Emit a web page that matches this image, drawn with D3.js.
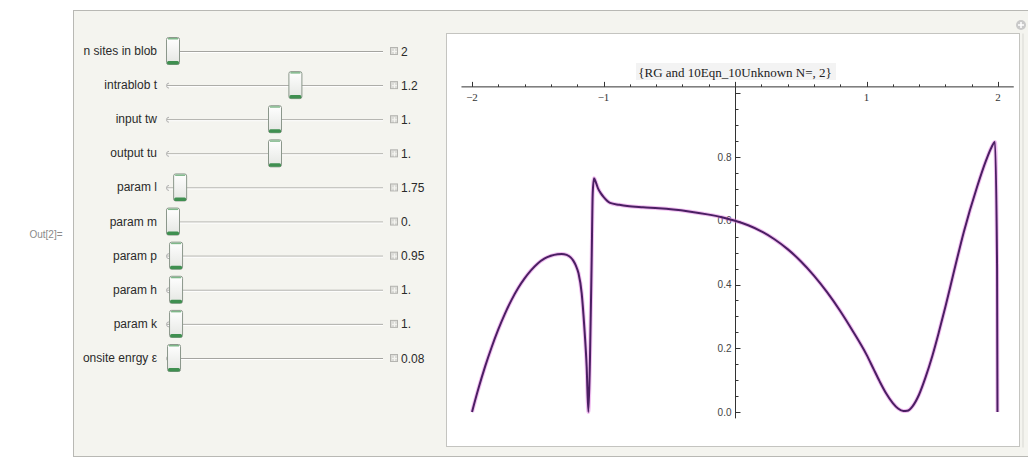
<!DOCTYPE html>
<html>
<head>
<meta charset="utf-8">
<script src="https://cdn.jsdelivr.net/npm/d3@7"></script>
<style>
  body { margin: 0; background: #fff; }
  svg { display: block; }
</style>
</head>
<body>
<svg id="chart" width="1028" height="463"></svg>
<script>
// slider panel
var sliderLabels = ['n sites in blob', 'intrablob t', 'input tw', 'output tu', 'param l',
    'param m', 'param p', 'param h', 'param k', 'onsite enrgy \u03b5'];
var sliderValues = ['2', '1.2', '1.', '1.', '1.75', '0.', '0.95', '1.', '1.', '0.08'];
var sliderPos = [0, 0.6, 0.5, 0.5, 0.035, 0, 0.015, 0.015, 0.015, 0.005];

// plotted curve
var curveX = [-2.0, -1.95, -1.9, -1.85, -1.8, -1.75, -1.7, -1.65, -1.6, -1.55, -1.5, -1.45,
    -1.4, -1.35, -1.318, -1.28, -1.25, -1.23, -1.21, -1.19, -1.166, -1.146, -1.128, -1.115,
    -1.103, -1.09, -1.082, -1.072, -1.056, -1.04, -1.02, -1.0, -0.95, -0.88, -0.82, -0.7,
    -0.58, -0.47, -0.35, -0.21, -0.1, 0.0, 0.1, 0.2, 0.3, 0.4, 0.5, 0.6, 0.7, 0.8, 0.9,
    1.0, 1.05, 1.1, 1.15, 1.2, 1.24, 1.28, 1.31, 1.35, 1.4, 1.45, 1.5, 1.55, 1.6,
    1.66, 1.74, 1.84, 1.91, 1.95, 1.977, 1.993, 1.996];
var curveY = [0.0, 0.075, 0.143, 0.204, 0.259, 0.308, 0.351, 0.388, 0.419, 0.445, 0.466, 0.481,
    0.49, 0.495, 0.496, 0.493, 0.485, 0.475, 0.459, 0.435, 0.373, 0.267, 0.142, 0.0,
    0.163, 0.476, 0.686, 0.733, 0.718, 0.70, 0.686, 0.675, 0.656, 0.65, 0.646, 0.642,
    0.639, 0.635, 0.629, 0.62, 0.611, 0.60, 0.586, 0.567, 0.542, 0.511, 0.473, 0.428, 0.376, 0.317, 0.251,
    0.18, 0.138, 0.096, 0.058, 0.028, 0.011, 0.003, 0.004, 0.018, 0.055, 0.11, 0.175, 0.25, 0.33,
    0.432, 0.565, 0.705, 0.79, 0.83, 0.847, 0.45, 0.0];

var xTicks = [-2, -1, 1, 2];
var xTickLabels = ['\u22122', '\u22121', '1', '2'];
var yTicks = [0, 0.2, 0.4, 0.6, 0.8];
var yTickLabels = ['0.0', '0.2', '0.4', '0.6', '0.8'];
var plotTitle = '{RG and 10Eqn_10Unknown N=, 2}';

var svg = d3.select('#chart');

// gradient for slider thumbs
var defs = svg.append('defs');
var grad = defs.append('linearGradient').attr('id', 'thumbGrad')
    .attr('x1', 0).attr('y1', 0).attr('x2', 0).attr('y2', 1);
grad.append('stop').attr('offset', '0%').attr('stop-color', '#ffffff');
grad.append('stop').attr('offset', '100%').attr('stop-color', '#e4e6e2');

// outer panel
svg.append('rect')
    .attr('x', 73.5).attr('y', 10.5)
    .attr('width', 1000).attr('height', 446)
    .attr('fill', '#f4f4ef')
    .attr('stroke', '#b8b8b4');

svg.append('text')
    .attr('x', 46).attr('y', 238)
    .attr('text-anchor', 'middle')
    .attr('font-family', 'Liberation Sans, Arial, sans-serif')
    .attr('font-size', 10)
    .attr('fill', '#8a8a8a')
    .text('Out[2]=');

// close icon top right
var icon = svg.append('g').attr('transform', 'translate(1021,25)');
icon.append('circle').attr('r', 5).attr('fill', '#c9c9c9');
icon.append('path').attr('d', 'M-3,0H3M0,-3V3').attr('stroke', '#fff').attr('stroke-width', 1.5);

// sliders
var rowScale = d3.scalePoint().domain(d3.range(sliderLabels.length)).range([51, 358]);
var thumbScale = d3.scaleLinear().domain([0, 1]).range([173, 377]);
var labelFont = 'Liberation Sans, Arial, sans-serif';

var rows = svg.selectAll('.slider')
    .data(sliderLabels)
    .enter()
    .append('g')
    .attr('class', 'slider')
    .attr('transform', function(d, i) { return 'translate(0,' + rowScale(i) + ')'; });

rows.append('text')
    .attr('x', 157).attr('y', 4)
    .attr('text-anchor', 'end')
    .attr('font-family', labelFont)
    .attr('font-size', 12)
    .attr('fill', '#2a2a2a')
    .text(function(d) { return d; });

rows.append('line')
    .attr('x1', 167).attr('x2', 383).attr('y1', 0.5).attr('y2', 0.5)
    .attr('stroke', '#a4a4a0');
rows.append('line')
    .attr('x1', 167).attr('x2', 383).attr('y1', 1.5).attr('y2', 1.5)
    .attr('stroke', '#ffffff');
rows.append('path')
    .attr('d', 'M169,-2 A2.5,2.5 0 0 0 169,3')
    .attr('fill', 'none').attr('stroke', '#b0b0b0');

// small plus button
rows.append('rect')
    .attr('x', 390.5).attr('y', -3.5).attr('width', 7).attr('height', 7)
    .attr('fill', '#dcdcd8').attr('stroke', '#b4b4b0');
rows.append('path')
    .attr('d', 'M392,0.5H397M394.5,-2V3')
    .attr('stroke', '#f4f4f0');

rows.append('text')
    .attr('x', 401).attr('y', 4.5)
    .attr('font-family', labelFont)
    .attr('font-size', 12)
    .attr('fill', '#2a2a2a')
    .text(function(d, i) { return sliderValues[i]; });

var thumbs = rows.append('g')
    .attr('transform', function(d, i) { return 'translate(' + thumbScale(sliderPos[i]) + ',0)'; });
thumbs.append('rect')
    .attr('x', -6.5).attr('y', -13.5).attr('width', 13).attr('height', 27).attr('rx', 2)
    .attr('fill', 'url(#thumbGrad)')
    .attr('stroke', '#8b978b');
thumbs.append('rect')
    .attr('x', -6).attr('y', 10).attr('width', 12).attr('height', 3.5).attr('rx', 1.5)
    .attr('fill', '#3f8f50');
thumbs.append('rect')
    .attr('x', -5).attr('y', -13).attr('width', 10).attr('height', 1.5)
    .attr('fill', '#7fb88a');

// plot box
svg.append('rect')
    .attr('x', 1022.5).attr('y', 33.5).attr('width', 1).attr('height', 414)
    .attr('fill', '#d8d8d4');
svg.append('rect')
    .attr('x', 446.5).attr('y', 33.5)
    .attr('width', 573).attr('height', 413)
    .attr('fill', '#ffffff')
    .attr('stroke', '#c4c4c0');

var xScale = d3.scaleLinear().domain([-2, 2]).range([472, 998]);
var yScale = d3.scaleLinear().domain([0, 0.8]).range([412, 157]);
var axisY = yScale(1.02);
var axisColor = '#333';

// title
svg.append('rect')
    .attr('x', 636).attr('y', 63).attr('width', 200).attr('height', 17)
    .attr('fill', '#f3f3f3');
svg.append('text')
    .attr('x', xScale(0)).attr('y', 77)
    .attr('text-anchor', 'middle')
    .attr('font-family', 'Liberation Serif, Times New Roman, serif')
    .attr('font-size', 13)
    .attr('fill', '#222')
    .text(plotTitle);

// x axis
svg.append('line')
    .attr('x1', xScale(-2.08)).attr('x2', xScale(2.12))
    .attr('y1', axisY).attr('y2', axisY)
    .attr('stroke', axisColor);

var xMinor = d3.range(-2, 2.001, 0.2).map(function(v) { return Math.round(v * 10) / 10; });
svg.selectAll('.xtick')
    .data(xMinor)
    .enter()
    .append('line')
    .attr('class', 'xtick')
    .attr('x1', function(d) { return Math.round(xScale(d)) + 0.5; })
    .attr('x2', function(d) { return Math.round(xScale(d)) + 0.5; })
    .attr('y1', axisY)
    .attr('y2', function(d) { return axisY - (Number.isInteger(d) ? 5 : 2.5); })
    .attr('stroke', axisColor);

svg.selectAll('.xlabel')
    .data(xTicks)
    .enter()
    .append('text')
    .attr('class', 'xlabel')
    .attr('x', function(d) { return xScale(d); })
    .attr('y', axisY + 14)
    .attr('text-anchor', 'middle')
    .attr('font-family', 'Liberation Serif, Times New Roman, serif')
    .attr('font-size', 11)
    .attr('fill', '#333')
    .text(function(d, i) { return xTickLabels[i]; });

// y axis
var x0 = Math.round(xScale(0)) + 0.5;
svg.append('line')
    .attr('x1', x0).attr('x2', x0)
    .attr('y1', axisY).attr('y2', yScale(-0.02))
    .attr('stroke', axisColor);

var yMinor = d3.range(0, 1.001, 0.05).map(function(v) { return Math.round(v * 100) / 100; });
svg.selectAll('.ytick')
    .data(yMinor)
    .enter()
    .append('line')
    .attr('class', 'ytick')
    .attr('x1', x0)
    .attr('x2', function(d) { return x0 + (Math.round(d * 100) % 20 === 0 ? 5 : 3); })
    .attr('y1', function(d) { return Math.round(yScale(d)) + 0.5; })
    .attr('y2', function(d) { return Math.round(yScale(d)) + 0.5; })
    .attr('stroke', axisColor);

svg.selectAll('.ylabel')
    .data(yTicks)
    .enter()
    .append('text')
    .attr('class', 'ylabel')
    .attr('x', x0 - 4)
    .attr('y', function(d) { return yScale(d) + 3.5; })
    .attr('text-anchor', 'end')
    .attr('font-family', 'Liberation Sans, Arial, sans-serif')
    .attr('font-size', 10)
    .attr('fill', '#444')
    .text(function(d, i) { return yTickLabels[i]; });

// curve
var pts = curveX.map(function(x, i) { return [x, curveY[i]]; });
var line = d3.line()
    .x(function(d) { return xScale(d[0]); })
    .y(function(d) { return yScale(d[1]); })
    .curve(d3.curveMonotoneX);

svg.append('path')
    .attr('d', line(pts))
    .attr('fill', 'none')
    .attr('stroke', '#e070e0')
    .attr('stroke-opacity', 0.45)
    .attr('stroke-width', 4);
svg.append('path')
    .attr('d', line(pts))
    .attr('fill', 'none')
    .attr('stroke', '#4b1f63')
    .attr('stroke-width', 2);
</script>
</body>
</html>
